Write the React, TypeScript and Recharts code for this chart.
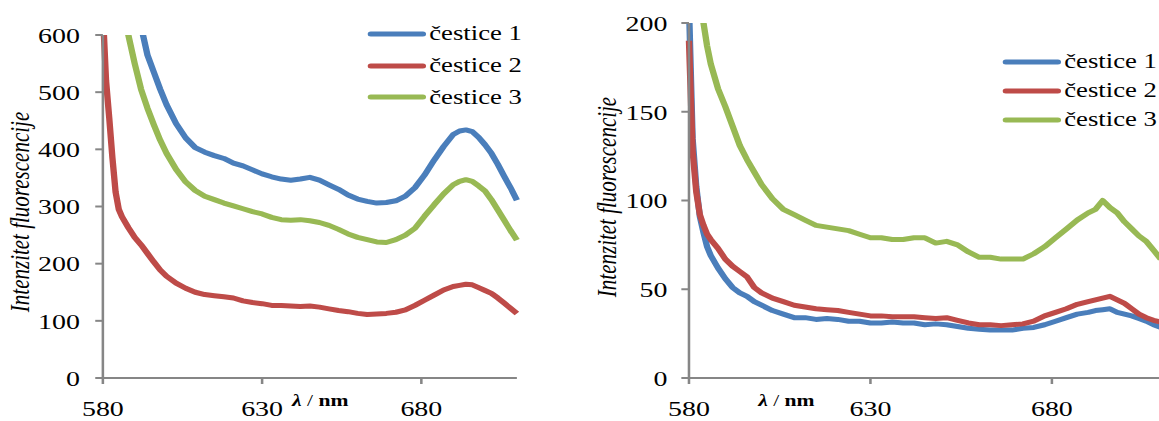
import { LineChart, Line, XAxis, YAxis, Legend, Label } from "recharts";

// the source figure is stretched sideways, so the charts are drawn narrow and scaled in x
const STRETCH = 1.27;
const FONT = "'Liberation Serif', 'Times New Roman', serif";
const AXIS_GRAY = "#868686";

const COLORS = ["#4A7EBB", "#BE4B48", "#98B954"];
const SERIES_NAMES = ["čestice 1", "čestice 2", "čestice 3"];

const wavelengths = [
  580, 581, 582, 583, 584, 585, 586, 588, 590, 592, 594, 596, 598, 600, 603, 606, 609, 612,
  615, 618, 621, 624, 627, 630, 633, 636, 639, 642, 645, 648, 651, 654, 657, 660, 663, 666,
  669, 672, 675, 678, 681, 684, 687, 690, 692, 694, 696, 698, 700, 702, 704, 706, 708, 710,
];

// left panel
const left1 = [
  2000, 1700, 1450, 1250, 1100, 1000, 920, 790, 690, 615, 565, 535, 505, 478, 445, 420, 403, 395,
  389, 384, 376, 371, 364, 357, 352, 348, 346, 348, 351, 346, 338, 330, 320, 313, 309, 306,
  307, 310, 318, 333, 355, 381, 405, 426, 432, 434, 431, 421, 408, 393, 374, 353, 333, 311,
];
const left2 = [
  640, 520, 455, 385, 325, 295, 282, 263, 246, 233, 218, 203, 189, 178, 166, 157, 150, 146,
  144, 142, 140, 135, 132, 130, 127, 127, 126, 125, 126, 124, 121, 118, 116, 113, 111, 112,
  113, 115, 119, 127, 136, 145, 154, 160, 162, 164, 163, 158, 153, 148, 140, 131, 122, 113,
];
const left3 = [
  1300, 1150, 1000, 900, 820, 760, 700, 600, 550, 505, 472, 443, 416, 393, 365, 343, 328, 318,
  312, 306, 301, 296, 291, 287, 281, 277, 276, 277, 275, 272, 267, 260, 252, 246, 242, 238,
  237, 242, 250, 262, 283, 303, 322, 338, 344, 347, 344, 336, 327, 312, 294, 276, 258, 241,
];

// right panel
const right1 = [
  210, 135, 108, 91, 82, 74, 69, 62, 56, 51, 48, 46, 43, 41, 38, 36, 34, 34,
  33, 33.5, 33, 32, 32, 31, 31, 31.5, 31, 31, 30, 30.5, 30, 29, 28, 27.5, 27, 27,
  27, 28, 28.5, 30, 32, 34, 36, 37, 38, 38.5, 39, 37, 36, 35, 33.5, 32, 30, 28.5,
];
const right2 = [
  190, 128, 105, 92, 86, 81, 78, 73, 67, 63, 60, 57, 51, 48, 45, 43, 41, 40,
  39, 38.5, 38, 37, 36, 35, 35, 34.5, 34.5, 34.5, 34, 33.5, 34, 32.5, 31, 30, 30, 29.5,
  30, 30.5, 32, 35, 37, 39, 41.5, 43, 44, 45, 46, 44, 42, 39, 36, 34, 32.5, 31.5,
];
const right3 = [
  320, 280, 245, 215, 200, 187, 177, 163, 153, 142, 131, 123, 116, 109, 101, 95, 92, 89,
  86, 85, 84, 83, 81, 79, 79, 78, 78, 79, 79, 76, 77, 75, 71, 68, 68, 67,
  67, 67, 70, 74, 79, 84, 89, 93, 95, 100, 96, 93, 88, 84, 80, 77, 72, 67,
];

const xTicks = [580, 630, 680];
const leftYTicks = [0, 100, 200, 300, 400, 500, 600];
const rightYTicks = [0, 50, 100, 150, 200];

const buildRows = (a: number[], b: number[], c: number[]) =>
  wavelengths.map((wl, i) => ({ wl, s1: a[i], s2: b[i], s3: c[i] }));

const leftData = buildRows(left1, left2, left3);
const rightData = buildRows(right1, right2, right3);

function LegendBox({ rowHeight }: { rowHeight: number }) {
  return (
    <div style={{ fontFamily: FONT, fontSize: 21, color: "#000" }}>
      {SERIES_NAMES.map((name, i) => (
        <div key={name} style={{ display: "flex", alignItems: "center", height: rowHeight }}>
          <svg width={47} height={8} style={{ marginRight: 2 }}>
            <line x1={3} y1={4} x2={44} y2={4} stroke={COLORS[i]} strokeWidth={5} strokeLinecap="round" />
          </svg>
          <span style={{ whiteSpace: "nowrap" }}>{name}</span>
        </div>
      ))}
    </div>
  );
}

const yTitle = (x: number, y: number) => () => (
  <text
    x={x}
    y={y}
    transform={`rotate(-90 ${x} ${y})`}
    textAnchor="middle"
    dominantBaseline="central"
    fontFamily={FONT}
    fontStyle="italic"
    fontSize={21}
    fill="#000"
  >
    Intenzitet fluorescencije
  </text>
);

const xTitle = (x: number, y: number) => () => (
  <text x={x} y={y} fontFamily={FONT} fontSize={17} fontWeight="bold" fill="#000">
    <tspan fontStyle="italic">λ</tspan>
    <tspan fontWeight="normal"> / </tspan>
    <tspan>nm</tspan>
  </text>
);

const tickStyle = { fill: "#000", fontSize: 22, fontFamily: FONT };

function Panel(props: {
  data: typeof leftData;
  width: number;
  top: number;
  right: number;
  yWidth: number;
  yMax: number;
  yTicks: number[];
  yTickMargin: number;
  yTitleX: number;
  yTitleY: number;
  xTitleX: number;
  legendLeft: number;
  legendTop: number;
  legendRow: number;
}) {
  return (
    <LineChart
      width={props.width}
      height={421}
      data={props.data}
      margin={{ top: props.top, right: props.right, bottom: 13, left: 0 }}
    >
      <XAxis
        dataKey="wl"
        type="number"
        domain={[580, 710]}
        ticks={xTicks}
        height={30}
        axisLine={{ stroke: AXIS_GRAY, strokeWidth: 2 }}
        tickLine={{ stroke: AXIS_GRAY, strokeWidth: 2 }}
        tickSize={6}
        tickMargin={16}
        tick={tickStyle}
      >
        <Label content={xTitle(props.xTitleX, 406)} />
      </XAxis>
      <YAxis
        type="number"
        domain={[0, props.yMax]}
        ticks={props.yTicks}
        allowDataOverflow
        width={props.yWidth}
        axisLine={{ stroke: AXIS_GRAY, strokeWidth: 2 }}
        tickLine={{ stroke: AXIS_GRAY, strokeWidth: 2 }}
        tickSize={6}
        tickMargin={props.yTickMargin}
        tick={tickStyle}
      >
        <Label content={yTitle(props.yTitleX, props.yTitleY)} />
      </YAxis>
      <Legend
        layout="vertical"
        align="center"
        verticalAlign="middle"
        content={() => <LegendBox rowHeight={props.legendRow} />}
        wrapperStyle={{ left: props.legendLeft, top: props.legendTop, width: "auto" }}
      />
      {["s1", "s2", "s3"].map((key, i) => (
        <Line
          key={key}
          dataKey={key}
          name={SERIES_NAMES[i]}
          type="linear"
          stroke={COLORS[i]}
          strokeWidth={5}
          strokeLinejoin="round"
          dot={false}
          activeDot={false}
          isAnimationActive={false}
        />
      ))}
    </LineChart>
  );
}

export default function App() {
  return (
    <div
      style={{
        position: "absolute",
        left: 0,
        top: 0,
        width: 1159,
        height: 421,
        overflow: "hidden",
        background: "#fff",
      }}
    >
      <div
        style={{
          position: "absolute",
          left: 0,
          top: 0,
          width: 920,
          height: 421,
          transform: `scaleX(${STRETCH})`,
          transformOrigin: "0 0",
        }}
      >
        <div style={{ position: "absolute", left: 0, top: 0 }}>
          <Panel
            data={leftData}
            width={440}
            top={35}
            right={33}
            yWidth={81}
            yMax={600}
            yTicks={leftYTicks}
            yTickMargin={12}
            yTitleX={16}
            yTitleY={212}
            xTitleX={230}
            legendLeft={289}
            legendTop={18}
            legendRow={31.7}
          />
        </div>
        <div style={{ position: "absolute", left: 460, top: 0 }}>
          <Panel
            data={rightData}
            width={460}
            top={23}
            right={6}
            yWidth={82.5}
            yMax={200}
            yTicks={rightYTicks}
            yTickMargin={11}
            yTitleX={18}
            yTitleY={197}
            xTitleX={137}
            legendLeft={329}
            legendTop={47}
            legendRow={29}
          />
        </div>
      </div>
    </div>
  );
}
